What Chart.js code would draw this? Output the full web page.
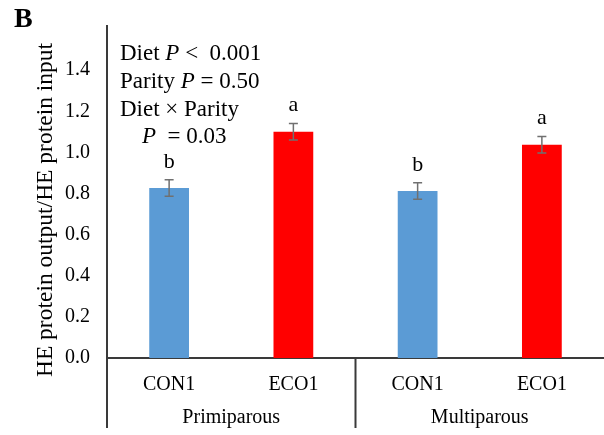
<!DOCTYPE html>
<html lang="en">

<head>
    <meta charset="UTF-8">
    <script src="https://cdn.jsdelivr.net/npm/chart.js"></script>
    <title>HE protein output/HE protein input</title>
    <style>
        body {
            margin: 0;
            background: #fff;
        }
    </style>
</head>

<body>
    <canvas id="heChart" width="604" height="435"></canvas>
    <script>
        // data
        const categorias = ['CON1', 'ECO1', 'CON1', 'ECO1'];
        const grupos = ['Primiparous', 'Multiparous'];
        const valores = [0.827, 1.100, 0.812, 1.037];
        const erros = [0.040, 0.040, 0.040, 0.040];
        const letras = ['b', 'a', 'b', 'a'];
        const yTicks = [0.0, 0.2, 0.4, 0.6, 0.8, 1.0, 1.2, 1.4];
        const cores = ['#5B9BD5', '#FF0000', '#5B9BD5', '#FF0000'];

        const serif = '"Liberation Serif", "Times New Roman", serif';
        const axisColor = '#3a3a3a';

        // error bars, letters, group labels, annotation
        const extras = {
            id: 'extras',
            afterDatasetsDraw(chart) {
                const ctx = chart.ctx;
                const x = chart.scales.x;
                const y = chart.scales.y;
                const area = chart.chartArea;

                ctx.save();
                // error bars
                ctx.strokeStyle = '#707070';
                ctx.lineWidth = 1.5;
                valores.forEach(function (v, i) {
                    const px = x.getPixelForValue(i);
                    const top = y.getPixelForValue(v + erros[i]);
                    const bot = y.getPixelForValue(v - erros[i]);
                    ctx.beginPath();
                    ctx.moveTo(px, top);
                    ctx.lineTo(px, bot);
                    ctx.moveTo(px - 4.5, top);
                    ctx.lineTo(px + 4.5, top);
                    ctx.moveTo(px - 4.5, bot);
                    ctx.lineTo(px + 4.5, bot);
                    ctx.stroke();
                });

                // letters
                ctx.fillStyle = '#000';
                ctx.font = '22px ' + serif;
                ctx.textAlign = 'center';
                ctx.textBaseline = 'middle';
                valores.forEach(function (v, i) {
                    const px = x.getPixelForValue(i);
                    const top = y.getPixelForValue(v + erros[i]);
                    ctx.fillText(letras[i], px, top - 18);
                });

                // axis extensions and group separator
                ctx.strokeStyle = axisColor;
                ctx.lineWidth = 2;
                ctx.beginPath();
                ctx.moveTo(area.left, area.top - 4);
                ctx.lineTo(area.left, 428);
                const sep = (x.getPixelForValue(1) + x.getPixelForValue(2)) / 2;
                ctx.moveTo(sep, area.bottom);
                ctx.lineTo(sep, 428);
                ctx.stroke();

                // group labels
                ctx.font = '20px ' + serif;
                grupos.forEach(function (g, k) {
                    const cx = (x.getPixelForValue(2 * k) + x.getPixelForValue(2 * k + 1)) / 2;
                    ctx.fillText(g, cx, 418);
                });

                // y axis title
                ctx.save();
                ctx.translate(46, 210);
                ctx.rotate(-Math.PI / 2);
                ctx.font = '23.5px ' + serif;
                ctx.fillText('HE protein output/HE protein input', 0, 0);
                ctx.restore();

                // panel letter
                ctx.font = 'bold 28px ' + serif;
                ctx.textAlign = 'left';
                ctx.textBaseline = 'alphabetic';
                ctx.fillText('B', 14, 27);

                // statistics text
                const linhas = [
                    [['Diet ', false], ['P', true], [' <  0.001', false]],
                    [['Parity ', false], ['P', true], [' = 0.50', false]],
                    [['Diet × Parity', false]],
                    [['P', true], ['  = 0.03', false]]
                ];
                const inicioX = [120, 120, 120, 142];
                linhas.forEach(function (partes, l) {
                    let cx = inicioX[l];
                    const base = 60 + l * 27.8;
                    partes.forEach(function (p) {
                        ctx.font = (p[1] ? 'italic ' : '') + '23px ' + serif;
                        ctx.fillText(p[0], cx, base);
                        cx += ctx.measureText(p[0]).width;
                    });
                });
                ctx.restore();
            }
        };

        const ctxHe = document.getElementById('heChart').getContext('2d');
        const heChart = new Chart(ctxHe, {
            type: 'bar',
            data: {
                labels: categorias,
                datasets: [{
                    data: valores,
                    backgroundColor: cores,
                    borderWidth: 0,
                    barPercentage: 0.32,
                    categoryPercentage: 1.0
                }]
            },
            options: {
                responsive: false,
                animation: false,
                layout: {
                    padding: { top: 29, right: 0, bottom: 0, left: 0 }
                },
                plugins: {
                    legend: { display: false },
                    tooltip: { enabled: false }
                },
                scales: {
                    x: {
                        grid: { display: false, drawTicks: false },
                        border: { display: true, color: axisColor, width: 2 },
                        ticks: {
                            color: '#000',
                            padding: 15,
                            maxRotation: 0,
                            font: { family: serif, size: 20 }
                        },
                        afterFit: function (scale) { scale.height = 77; }
                    },
                    y: {
                        min: 0,
                        max: 1.6,
                        grid: { display: false, drawTicks: false },
                        border: { display: true, color: axisColor, width: 2 },
                        afterBuildTicks: function (scale) {
                            scale.ticks = yTicks.map(function (v) { return { value: v }; });
                        },
                        ticks: {
                            color: '#000',
                            padding: 17,
                            font: { family: serif, size: 20 },
                            callback: function (v) { return Number(v).toFixed(1); }
                        },
                        afterFit: function (scale) { scale.width = 107; }
                    }
                }
            },
            plugins: [extras]
        });
    </script>
</body>

</html>
